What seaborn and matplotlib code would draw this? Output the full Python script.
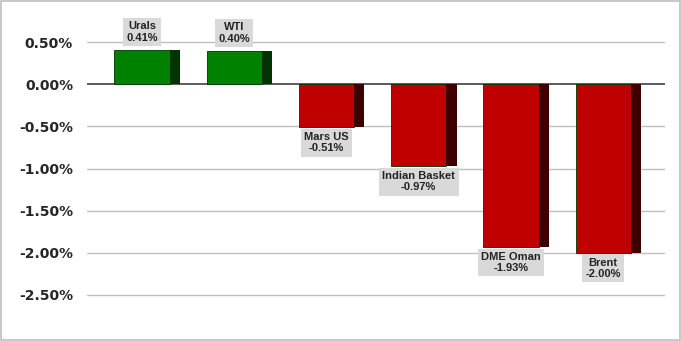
import numpy as np
import matplotlib
matplotlib.use("Agg")
import matplotlib.pyplot as plt
import seaborn as sns
from matplotlib.ticker import FuncFormatter

categories = ["Urals", "WTI", "Mars US", "Indian Basket", "DME Oman", "Brent"]
values = [0.41, 0.40, -0.51, -0.97, -1.93, -2.00]
value_labels = ["0.41%", "0.40%", "-0.51%", "-0.97%", "-1.93%", "-2.00%"]
yticks = [0.5, 0.0, -0.5, -1.0, -1.5, -2.0, -2.5]

front_colors = ["#008000" if v >= 0 else "#C00000" for v in values]
side_colors = ["#003300" if v >= 0 else "#3D0000" for v in values]

sns.set_theme(style="white")
plt.rcParams['font.family'] = ['Liberation Sans', 'DejaVu Sans']

fig = plt.figure(figsize=(6.81, 3.41), dpi=100)
ax = fig.add_axes([87/681, 1-316/341, (665-87)/681, (316-21)/341])

sns.barplot(x=categories, y=values, hue=categories, palette=front_colors,
            legend=False, width=0.6, ax=ax, zorder=3, saturation=1,
            edgecolor=side_colors, linewidth=0.6)
# dark side faces for 3D look
pos = np.arange(len(categories))
ax.bar(pos + 0.3 + 0.055, values, width=0.11, color=side_colors, zorder=3, linewidth=0)

ax.set_ylim(-2.75, 0.75)
ax.set_xlim(-0.597, 5.67)
ax.set_yticks(yticks)
ax.yaxis.set_major_formatter(FuncFormatter(lambda v, p: f"{v:.2f}%"))
for lab in ax.get_yticklabels():
    lab.set_fontfamily('DejaVu Sans')
    lab.set_fontweight('bold')
    lab.set_fontsize(10)
ax.tick_params(axis='y', length=0, pad=10)
ax.set_xticks([])
ax.set_xlabel("")
ax.set_ylabel("")
for s in ax.spines.values():
    s.set_visible(False)
for t in yticks:
    ax.axhline(t, color="#404040" if t == 0 else "#BFBFBF", lw=1.2 if t == 0 else 1.0, zorder=1)

for i, (c, v, lbl) in enumerate(zip(categories, values, value_labels)):
    if v >= 0:
        off, va = 7, 'bottom'
    else:
        off, va = -5, 'top'
    ax.annotate(f"{c}\n{lbl}", xy=(i, v), xytext=(0, off * 0.72), textcoords='offset points',
                ha='center', va=va, fontsize=8, fontweight='bold', color='#222222',
                linespacing=1.15, zorder=5,
                bbox=dict(boxstyle='square,pad=0.3', fc='#D9D9D9', ec='none'))

fig.patches.append(plt.Rectangle((0.001, 0.002), 0.997, 0.995, transform=fig.transFigure,
                                 fill=False, ec='#BFBFBF', lw=1.2))
fig.savefig("out.png", dpi=100)
